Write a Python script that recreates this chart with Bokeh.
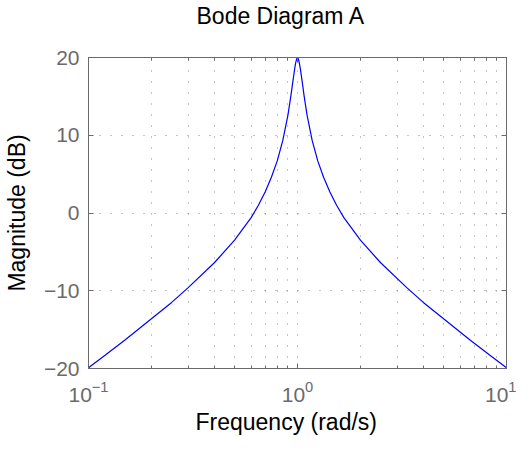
from bokeh.plotting import figure
from bokeh.models import (LogAxis, LinearAxis, FixedTicker, Range1d, Title,
                          LogTickFormatter, CustomJSTickFormatter)
from bokeh.embed import file_html
from bokeh.resources import INLINE

# Frequency (rad/s) and magnitude (dB)
freq = [0.1, 0.12, 0.15, 0.2, 0.25, 0.3, 0.4, 0.5, 0.6, 0.65,
        0.7, 0.75, 0.8, 0.85, 0.9, 0.93, 0.95, 0.97, 0.98, 0.99,
        1.0,
        1.01, 1.02, 1.031, 1.053, 1.075, 1.111, 1.176, 1.25, 1.333, 1.429,
        1.538, 1.667, 2.0, 2.5, 3.333, 4.0, 5.0, 6.667, 8.333, 10.0]
mag = [-19.9, -18.3, -16.3, -13.6, -11.5, -9.6, -6.4, -3.5, -0.6, 1.0,
       2.7, 4.6, 6.7, 9.3, 12.6, 15.1, 16.9, 18.6, 19.3, 19.8,
       20.0,
       19.8, 19.3, 18.6, 16.9, 15.1, 12.6, 9.3, 6.7, 4.6, 2.7,
       1.0, -0.6, -3.5, -6.4, -9.6, -11.5, -13.6, -16.3, -18.3, -19.9]

x_major = [0.1, 1, 10]
x_minor = [0.2, 0.3, 0.4, 0.5, 0.6, 0.7, 0.8, 0.9, 2, 3, 4, 5, 6, 7, 8, 9]
y_ticks = [-20, -10, 0, 10, 20]
y_tick_labels = {-20: "\u221220", -10: "\u221210", 0: "0", 10: "10", 20: "20"}

title_text = "Bode Diagram A"
x_label_text = "Frequency  (rad/s)"
y_label_text = "Magnitude (dB)"

FONT = "Liberation Sans"
AX = "#6a6a6a"
GRID = "#8a8a8a"

p = figure(width=516, height=436, x_axis_type="log",
           x_range=Range1d(0.1, 10), y_range=Range1d(-20, 20),
           output_backend="svg", toolbar_location=None,
           min_border_left=84, min_border_right=10,
           min_border_top=55, min_border_bottom=66)

p.title.text = title_text
p.title.align = "left"
p.title.offset = 108
p.title.text_font = FONT
p.title.text_font_size = "23px"
p.title.text_font_style = "normal"
p.title.text_color = "black"
p.title.standoff = 0

p.line(freq, mag, line_color="#0000ff", line_width=1.2)

def style_axis(ax, minor_in):
    ax.axis_line_color = AX
    ax.axis_line_width = 1
    ax.major_tick_line_color = AX
    ax.minor_tick_line_color = AX
    ax.major_tick_in = 5
    ax.major_tick_out = 0
    ax.minor_tick_in = minor_in
    ax.minor_tick_out = 0
    ax.major_label_text_font = FONT
    ax.major_label_text_font_size = "21px"
    ax.major_label_text_color = AX

xt = FixedTicker(ticks=x_major, minor_ticks=x_minor)
yt = FixedTicker(ticks=y_ticks)

xa = p.xaxis[0]
xa.ticker = xt
xa.formatter = LogTickFormatter()
style_axis(xa, 3)
xa.major_label_standoff = 12

ya = p.yaxis[0]
ya.ticker = yt
style_axis(ya, 0)
ya.major_label_overrides = y_tick_labels
ya.major_label_standoff = 9
ya.axis_label = y_label_text
ya.axis_label_text_font = FONT
ya.axis_label_text_font_size = "23px"
ya.axis_label_text_font_style = "normal"
ya.axis_label_text_color = "black"
ya.axis_label_standoff = 11

# top box edge: ticks only; a 1px blank label + standoff leaves room for the title
top = LogAxis(ticker=FixedTicker(ticks=x_major, minor_ticks=x_minor))
style_axis(top, 3)
top.formatter = CustomJSTickFormatter(code="return ' '")
top.major_label_text_font_size = "1px"
top.major_label_standoff = 25
p.add_layout(top, "above")

right = LinearAxis(ticker=FixedTicker(ticks=y_ticks))
style_axis(right, 0)
right.formatter = CustomJSTickFormatter(code="return ''")
right.major_label_standoff = 0
p.add_layout(right, "right")

xlabel = Title(text=x_label_text, align="left", offset=107,
               text_font=FONT, text_font_size="23px", text_font_style="normal",
               text_color="black", standoff=4)
p.add_layout(xlabel, "below")

p.xgrid.ticker = xt
p.xgrid.grid_line_color = GRID
p.xgrid.grid_line_dash = "1 10"
p.xgrid.minor_grid_line_color = GRID
p.xgrid.minor_grid_line_dash = "1 10"
p.ygrid.ticker = yt
p.ygrid.grid_line_color = GRID
p.ygrid.grid_line_dash = "1 10"

p.outline_line_color = AX
p.outline_line_alpha = 1
p.background_fill_color = "white"
p.border_fill_color = "white"

open("out.html", "w").write(file_html(p, INLINE))
